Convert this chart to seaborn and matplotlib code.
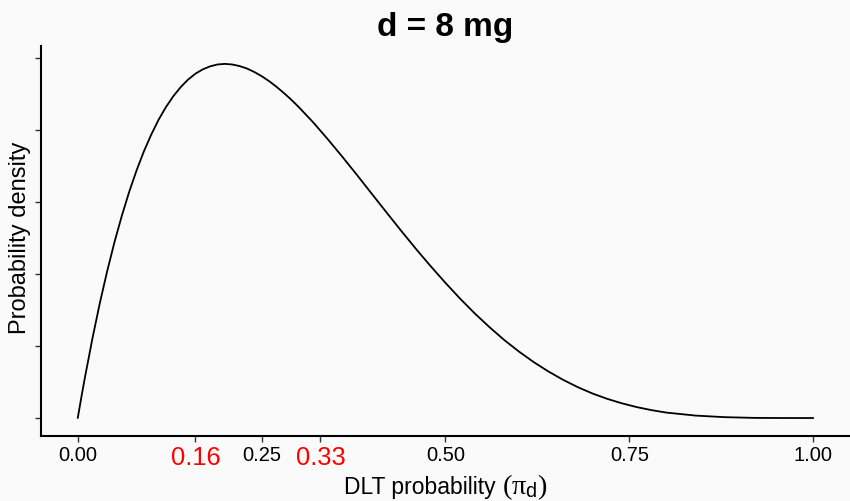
import matplotlib
matplotlib.use("Agg")
import matplotlib.pyplot as plt
from matplotlib.offsetbox import TextArea, HPacker, AnchoredOffsetbox
import seaborn as sns
import pandas as pd

# DLT probability grid and probability density values
pi_d = [0.0, 0.005, 0.01, 0.02, 0.03, 0.04, 0.05, 0.06, 0.07, 0.08, 0.09,
        0.10, 0.11, 0.12, 0.13, 0.14, 0.15, 0.16, 0.17, 0.18, 0.19,
        0.20, 0.21, 0.22, 0.23, 0.24, 0.25, 0.26, 0.27, 0.28, 0.29,
        0.30, 0.32, 0.34, 0.36, 0.38, 0.40, 0.42, 0.44, 0.46, 0.48,
        0.50, 0.52, 0.54, 0.56, 0.58, 0.60, 0.62, 0.64, 0.66, 0.68,
        0.70, 0.72, 0.74, 0.76, 0.78, 0.80, 0.84, 0.88, 0.92, 0.96, 1.0]
density = [0.0, 0.147, 0.288, 0.553, 0.797, 1.019, 1.222, 1.405, 1.571, 1.719, 1.852,
           1.968, 2.071, 2.159, 2.234, 2.297, 2.349, 2.390, 2.420, 2.441, 2.454,
           2.458, 2.454, 2.443, 2.426, 2.402, 2.373, 2.339, 2.300, 2.257, 2.211,
           2.161, 2.053, 1.935, 1.812, 1.685, 1.555, 1.426, 1.298, 1.173, 1.053,
           0.938, 0.828, 0.725, 0.630, 0.541, 0.461, 0.388, 0.323, 0.265, 0.214,
           0.170, 0.133, 0.102, 0.076, 0.055, 0.038, 0.017, 0.006, 0.001, 0.0001, 0.0]

x_ticks = [0.0, 0.16, 0.25, 0.33, 0.5, 0.75, 1.0]
x_tick_labels = ["0.00", "0.16", "0.25", "0.33", "0.50", "0.75", "1.00"]
highlight_ticks = ["0.16", "0.33"]
y_ticks = [0.0, 0.5, 1.0, 1.5, 2.0, 2.5]
title = "d = 8 mg"
x_label_text = "DLT probability"
x_label_math = r"$(\pi_{\mathsf{d}})$"
y_label_text = "Probability density"

df = pd.DataFrame({"pi": pi_d, "density": density})

sns.set_theme(style="ticks")
plt.rcParams["font.family"] = ["Liberation Sans", "DejaVu Sans"]
plt.rcParams["mathtext.fontset"] = "custom"
plt.rcParams["mathtext.rm"] = "Liberation Serif"
plt.rcParams["mathtext.it"] = "Liberation Serif"
plt.rcParams["mathtext.sf"] = "Liberation Sans"
bg = "#FAFAFA"

fig = plt.figure(figsize=(8.5, 5.02), dpi=100, facecolor=bg)
ax = fig.add_axes([0.0482, 0.130, 0.9518, 0.776])
ax.set_facecolor(bg)

sns.lineplot(data=df, x="pi", y="density", ax=ax, color="black", linewidth=1.3)

ax.set_xlim(-0.05, 1.05)
ymax = max(density)
ax.set_ylim(-0.05 * ymax, 1.05 * ymax)

ax.set_xticks(x_ticks)
ax.set_xticklabels(x_tick_labels)
ax.set_yticks(y_ticks)
ax.set_yticklabels([])

for lbl in ax.get_xticklabels():
    if lbl.get_text() in highlight_ticks:
        lbl.set_color("red")
        lbl.set_fontsize(18.4)
    else:
        lbl.set_color("black")
        lbl.set_fontsize(14.5)

ax.tick_params(axis="both", length=4, width=1.0, color="#333333", pad=3)
for s in ["top", "right"]:
    ax.spines[s].set_visible(False)
for s in ["left", "bottom"]:
    ax.spines[s].set_color("black")
    ax.spines[s].set_linewidth(1.5)

# x label: sans text followed by a larger serif math part
ax.set_xlabel("")
part1 = TextArea(x_label_text + " ", textprops=dict(fontsize=16.5, color="black"))
part2 = TextArea(x_label_math, textprops=dict(fontsize=20.5, color="black"))
box = HPacker(children=[part1, part2], align="baseline", pad=0, sep=0)
anchored = AnchoredOffsetbox(loc="center", child=box, pad=0, borderpad=0, frameon=False,
                             bbox_to_anchor=(0.5244, 0.029), bbox_transform=fig.transFigure)
fig.add_artist(anchored)

ax.set_ylabel(y_label_text, fontsize=17, color="black")
ax.yaxis.set_label_coords(-0.0124, 0.51)
ax.set_title(title, fontsize=24, fontweight="bold", color="black", pad=8)

fig.savefig("out.png", dpi=100, facecolor=bg)
